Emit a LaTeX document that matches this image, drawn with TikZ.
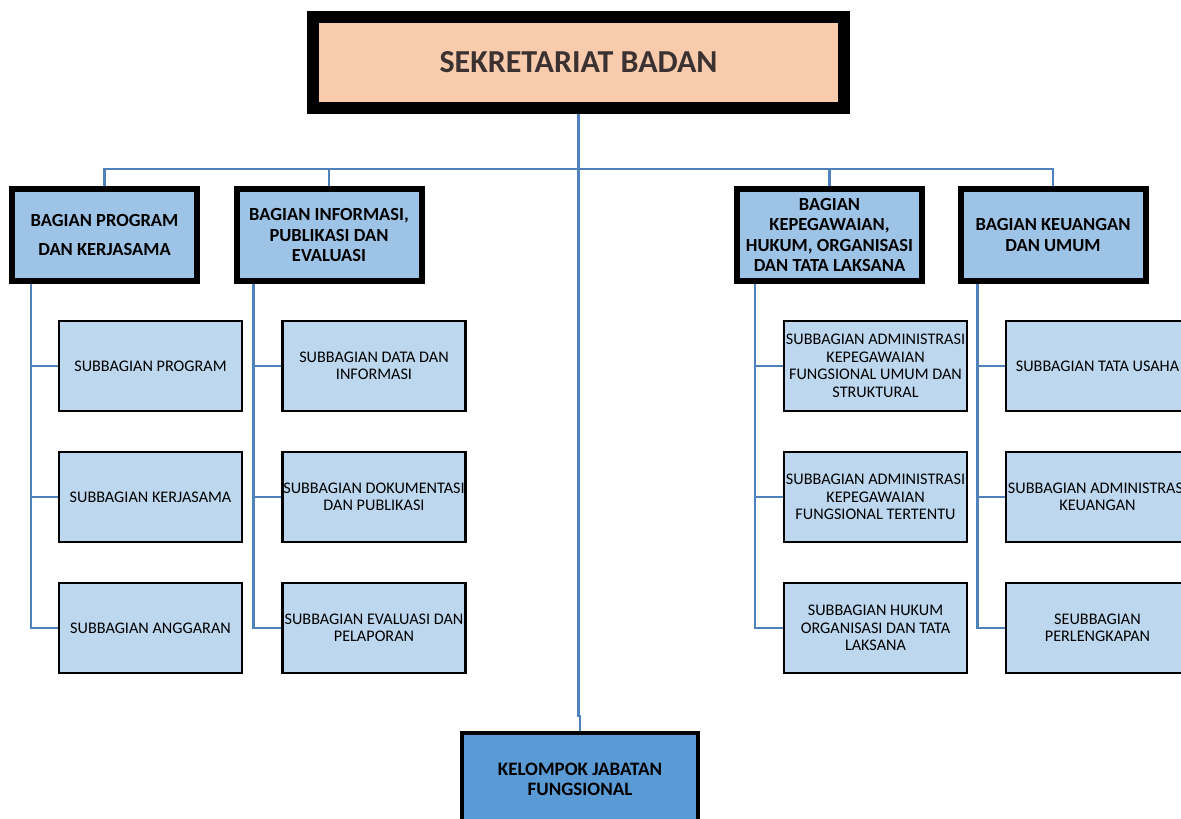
\documentclass[tikz,border=0pt]{standalone}
\usepackage{fontspec}
\setmainfont{Carlito}
\usetikzlibrary{backgrounds}
\definecolor{topfill}{HTML}{F8CBAD}
\definecolor{titletext}{HTML}{3B3131}
\definecolor{bagfill}{HTML}{9DC3E6}
\definecolor{subfill}{HTML}{BDD7EE}
\definecolor{jffill}{HTML}{5B9BD5}
\definecolor{linec}{HTML}{4F81BD}
\begin{document}
\begin{tikzpicture}[x=1pt,y=-1pt,
  topbox/.style={draw=black, line width=12pt, fill=topfill, minimum width=531pt, minimum height=91pt, inner sep=0pt, outer sep=0pt, font=\fontsize{32}{38}\selectfont\bfseries, text=titletext},
  bagbox/.style={draw=black, line width=6pt, fill=bagfill, minimum width=185pt, minimum height=92pt, inner sep=0pt, outer sep=0pt, align=center, font=\fontsize{18.5}{20.5}\selectfont\bfseries},
  subbox/.style={draw=black, line width=2.5pt, fill=subfill, minimum width=183pt, minimum height=90pt, inner sep=0pt, outer sep=0pt, align=center, font=\fontsize{16.2}{17.5}\selectfont},
  jfbox/.style={draw=black, line width=4.5pt, fill=jffill, minimum width=236pt, minimum height=92pt, inner sep=0pt, outer sep=0pt, align=center, font=\fontsize{19}{20}\selectfont\bfseries},
  conn/.style={draw=linec, line width=2.5pt}]
\useasboundingbox (0,0) rectangle (1181,819);
\clip (0,0) rectangle (1181,819);

\node[topbox] (top) at (578.5,62.5) {SEKRETARIAT BADAN};

\node[bagbox] (b1) at (104.5,235) {BAGIAN PROGRAM\\[9pt]DAN KERJASAMA};
\node[bagbox] (b2) at (329,235) {BAGIAN INFORMASI,\\PUBLIKASI DAN\\EVALUASI};
\node[bagbox] (b3) at (829.5,235) {BAGIAN\\KEPEGAWAIAN,\\HUKUM, ORGANISASI\\DAN TATA LAKSANA};
\node[bagbox] (b4) at (1053,235) {BAGIAN KEUANGAN\\DAN UMUM};

\node[subbox] (s11) at (150.5,366) {SUBBAGIAN PROGRAM};
\node[subbox] (s12) at (150.5,497) {SUBBAGIAN KERJASAMA};
\node[subbox] (s13) at (150.5,628) {SUBBAGIAN ANGGARAN};

\node[subbox] (s21) at (374,366) {SUBBAGIAN DATA DAN\\INFORMASI};
\node[subbox] (s22) at (374,497) {SUBBAGIAN DOKUMENTASI\\DAN PUBLIKASI};
\node[subbox] (s23) at (374,628) {SUBBAGIAN EVALUASI DAN\\PELAPORAN};

\node[subbox] (s31) at (875.5,366) {SUBBAGIAN ADMINISTRASI\\KEPEGAWAIAN\\FUNGSIONAL UMUM DAN\\STRUKTURAL};
\node[subbox] (s32) at (875.5,497) {SUBBAGIAN ADMINISTRASI\\KEPEGAWAIAN\\FUNGSIONAL TERTENTU};
\node[subbox] (s33) at (875.5,628) {SUBBAGIAN HUKUM\\ORGANISASI DAN TATA\\LAKSANA};

\node[subbox] (s41) at (1097.5,366) {SUBBAGIAN TATA USAHA};
\node[subbox] (s42) at (1097.5,497) {SUBBAGIAN ADMINISTRASI\\KEUANGAN};
\node[subbox] (s43) at (1097.5,628) {SEUBBAGIAN\\PERLENGKAPAN};

\node[jfbox] (jf) at (580,779) {KELOMPOK JABATAN\\FUNGSIONAL};

\begin{scope}[on background layer]
\coordinate (bus) at (579,169);
\coordinate (jog) at (580,716);
\draw[conn] (b1.north) -- (b1.north |- bus) -- (b4.north |- bus) -- (b4.north);
\draw[conn] (b2.north) -- (b2.north |- bus);
\draw[conn] (b3.north) -- (b3.north |- bus);
\draw[conn] (top.south) -- (top.south |- jog) -- (jog) -- (jf.north);
\draw[conn] ([xshift=19pt]b1.south west) |- (s11.west);
\draw[conn] ([xshift=19pt]b1.south west) |- (s12.west);
\draw[conn] ([xshift=19pt]b1.south west) |- (s13.west);
\draw[conn] ([xshift=17pt]b2.south west) |- (s21.west);
\draw[conn] ([xshift=17pt]b2.south west) |- (s22.west);
\draw[conn] ([xshift=17pt]b2.south west) |- (s23.west);
\draw[conn] ([xshift=18pt]b3.south west) |- (s31.west);
\draw[conn] ([xshift=18pt]b3.south west) |- (s32.west);
\draw[conn] ([xshift=18pt]b3.south west) |- (s33.west);
\draw[conn] ([xshift=17pt]b4.south west) |- (s41.west);
\draw[conn] ([xshift=17pt]b4.south west) |- (s42.west);
\draw[conn] ([xshift=17pt]b4.south west) |- (s43.west);
\end{scope}
\end{tikzpicture}
\end{document}
